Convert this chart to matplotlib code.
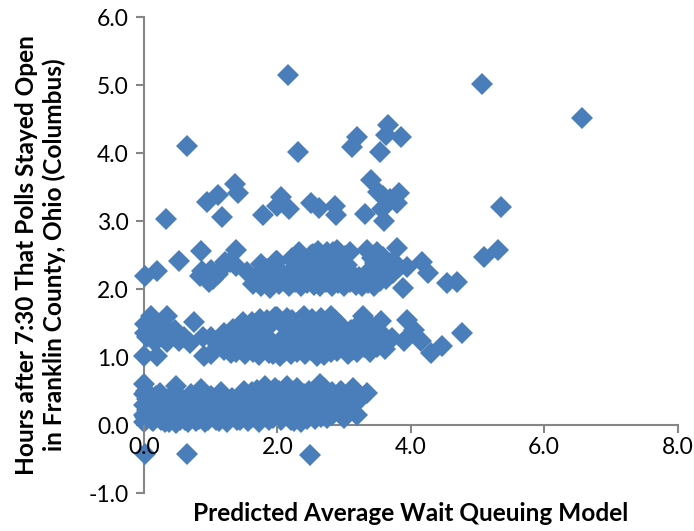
import matplotlib
matplotlib.use('Agg')
import matplotlib.pyplot as plt
from matplotlib.ticker import FormatStrFormatter

plt.rcParams['font.family'] = ['Lato', 'DejaVu Sans']

# scattered points above the 2 hour band
upper_x = [2.16, 0.645, 2.31, 3.19, 3.12, 3.66, 3.63, 3.86, 3.54, 3.40, 1.37, 1.41, 1.11, 0.945, 1.17, 0.33,
           1.79, 2.05, 2.00, 2.18, 2.51, 2.63, 2.86, 2.88, 3.31, 3.51, 3.58, 3.83, 3.79, 3.69, 3.57, 3.60,
           5.07, 6.57, 5.35]
upper_y = [5.15, 4.11, 4.02, 4.24, 4.09, 4.41, 4.26, 4.24, 4.02, 3.60, 3.54, 3.41, 3.38, 3.28, 3.06, 3.03,
           3.09, 3.35, 3.22, 3.17, 3.27, 3.19, 3.22, 3.09, 3.11, 3.42, 3.37, 3.41, 3.27, 3.32, 3.17, 3.00,
           5.02, 4.51, 3.21]

# points around 2 hours
two_x = [0.01, 0.19, 0.53, 0.855, 0.865, 0.84, 0.975, 1.04, 1.11, 1.21, 1.38, 1.38, 1.29, 1.76, 1.63, 1.76,
         1.89, 1.98, 1.72, 1.84, 1.92, 1.80, 1.55, 1.68, 1.99, 2.33, 2.61, 2.89, 2.74, 3.09, 3.35, 3.49,
         3.80, 3.59, 4.17, 4.26, 3.94, 3.89, 4.54, 4.70, 3.74, 5.31, 5.10, 2.02, 2.10, 2.18, 2.27, 2.36,
         2.45, 2.55, 2.64, 2.73, 2.82, 2.91, 3.00, 3.09, 3.18, 3.27, 3.36, 3.45, 3.54, 3.63, 2.06, 2.15,
         2.24, 2.33, 2.42, 2.52, 2.60, 2.70, 2.78, 2.88, 2.96, 3.05, 3.14, 3.22, 3.33, 3.42, 3.50, 3.60,
         3.70, 2.25, 2.38, 2.50, 2.68, 2.80, 2.95, 3.04, 3.42, 3.55, 3.72, 3.82, 2.22, 2.50, 2.72, 2.90,
         2.54, 2.66, 2.84, 3.02, 3.46, 3.67, 1.00, 1.16]
two_y = [2.19, 2.27, 2.41, 2.56, 2.27, 2.19, 2.10, 2.15, 2.22, 2.39, 2.57, 2.34, 2.39, 2.37, 2.07, 2.05,
         2.02, 2.41, 2.22, 2.30, 2.14, 2.12, 2.25, 2.18, 2.41, 2.55, 2.56, 2.58, 2.55, 2.54, 2.58, 2.54,
         2.61, 2.47, 2.40, 2.23, 2.33, 2.01, 2.09, 2.10, 2.24, 2.58, 2.47, 2.08, 2.12, 2.05, 2.10, 2.04,
         2.09, 2.06, 2.04, 2.10, 2.05, 2.09, 2.04, 2.10, 2.06, 2.05, 2.09, 2.05, 2.12, 2.15, 2.25, 2.20,
         2.28, 2.24, 2.18, 2.25, 2.22, 2.27, 2.20, 2.25, 2.18, 2.24, 2.20, 2.18, 2.22, 2.26, 2.20, 2.28,
         2.30, 2.40, 2.36, 2.33, 2.40, 2.38, 2.42, 2.36, 2.45, 2.34, 2.40, 2.32, 2.46, 2.50, 2.48, 2.50,
         2.52, 2.50, 2.54, 2.48, 2.38, 2.36, 2.28, 2.30]

# points around 1 hour
one_x = [0.10, 0.34, 0.75, 0.015, 0.02, 0.00, 0.20, 0.165, 0.34, 0.46, 0.36, 0.69, 0.89, 1.01, 0.90, 1.01,
         1.11, 1.34, 1.49, 1.74, 1.96, 1.51, 1.31, 1.94, 1.99, 2.22, 2.40, 2.62, 2.81, 3.29, 3.56, 3.95,
         4.05, 4.16, 3.90, 3.64, 3.39, 3.06, 2.59, 2.04, 4.30, 4.47, 4.77, 0.04, 0.08, 0.25, 1.20, 1.28,
         1.38, 1.46, 1.55, 1.63, 1.72, 1.80, 1.88, 2.10, 2.20, 2.30, 2.42, 2.50, 2.70, 2.80, 2.90, 3.00,
         3.12, 3.20, 3.30, 3.42, 3.50, 3.30, 3.20, 3.10, 2.95, 2.85, 2.72, 2.50, 2.38, 2.25, 2.12, 1.70,
         1.62, 1.20, 1.40, 1.56, 1.68, 1.80, 1.92, 2.05, 2.18, 2.32, 2.46, 2.58, 2.68, 2.78, 2.90, 3.02,
         3.15, 3.27, 3.40, 3.52, 1.75, 1.88, 2.10, 2.30, 2.50, 2.75, 2.95, 1.62, 1.85, 2.06, 2.15, 2.34,
         2.52, 2.66, 2.86, 3.16, 3.40, 3.46, 3.62, 3.72, 0.22, 0.30, 0.52, 0.60]
one_y = [1.60, 1.60, 1.51, 1.49, 1.35, 1.02, 1.01, 1.22, 1.22, 1.39, 1.31, 1.21, 1.29, 1.30, 1.02, 1.05,
         1.17, 1.41, 1.51, 1.56, 1.59, 1.05, 1.06, 1.05, 1.59, 1.55, 1.60, 1.52, 1.60, 1.60, 1.53, 1.55,
         1.39, 1.24, 1.23, 1.24, 1.07, 1.05, 1.01, 1.02, 1.06, 1.16, 1.35, 1.30, 1.42, 1.45, 1.10, 1.25,
         1.08, 1.22, 1.12, 1.07, 1.03, 1.12, 1.06, 1.07, 1.05, 1.08, 1.04, 1.10, 1.03, 1.07, 1.09, 1.12,
         1.10, 1.08, 1.15, 1.20, 1.15, 1.28, 1.35, 1.40, 1.32, 1.42, 1.30, 1.40, 1.30, 1.42, 1.30, 1.42,
         1.30, 1.36, 1.28, 1.33, 1.22, 1.30, 1.22, 1.25, 1.20, 1.25, 1.20, 1.25, 1.18, 1.22, 1.18, 1.22,
         1.25, 1.30, 1.35, 1.38, 1.50, 1.45, 1.48, 1.50, 1.48, 1.50, 1.45, 1.52, 1.55, 1.50, 1.57, 1.54,
         1.56, 1.58, 1.54, 1.42, 1.45, 1.30, 1.12, 1.28, 1.40, 1.46, 1.24, 1.30]

# points just after 7:30
zero_x = [0.00, 0.00, 0.00, 0.00, 0.00, 0.03, 0.05, 0.08, 0.12, 0.18, 0.24, 0.32, 0.40, 0.48, 0.48, 0.55, 0.62, 0.70,
          0.78, 0.85, 0.92, 1.00, 1.08, 1.16, 1.24, 1.32, 1.40, 1.48, 1.56, 1.64, 1.72, 1.80, 1.88, 1.96, 2.06, 2.15,
          2.25, 2.35, 2.45, 2.56, 2.64, 2.75, 2.86, 2.96, 3.05, 3.13, 3.19, 3.25, 3.34, 0.10, 0.22, 0.36, 0.52, 0.68,
          0.84, 1.02, 1.18, 1.34, 1.50, 1.66, 1.82, 1.98, 2.10, 2.22, 2.34, 2.50, 2.62, 2.76, 2.90, 3.04, 0.30, 0.44,
          0.60, 0.76, 0.94, 1.10, 1.26, 1.42, 1.58, 1.74, 1.90, 2.04, 2.18, 2.30, 2.42, 2.54, 2.68, 2.82, 0.15, 0.28,
          0.42, 0.58, 0.74, 0.90, 1.06, 1.22, 1.38, 1.54, 1.70, 1.86, 2.00, 2.12, 2.28, 2.40, 2.58, 2.72, 0.02, 0.04,
          1.82, 1.92, 2.02, 2.14, 2.30, 2.48, 2.70, 2.94, 0.14, 0.26, 0.38, 0.54, 0.66, 0.82, 0.96, 1.12, 1.28, 1.44,
          1.60, 1.76, 1.94, 2.20, 2.40, 2.66, 1.50, 1.62, 1.70, 2.82, 3.00, 3.10]
zero_y = [0.60, 0.45, 0.30, 0.15, 0.05, 0.50, 0.38, 0.25, 0.08, 0.42, 0.47, 0.05, 0.42, 0.03, 0.58, 0.40, 0.08, 0.46,
          0.06, 0.53, 0.05, 0.42, 0.08, 0.48, 0.05, 0.40, 0.08, 0.45, 0.06, 0.44, 0.04, 0.52, 0.08, 0.55, 0.08, 0.57,
          0.06, 0.05, 0.09, 0.09, 0.60, 0.10, 0.27, 0.50, 0.32, 0.55, 0.14, 0.40, 0.47, 0.30, 0.18, 0.28, 0.20, 0.28,
          0.22, 0.25, 0.20, 0.26, 0.18, 0.25, 0.20, 0.30, 0.25, 0.32, 0.22, 0.30, 0.25, 0.35, 0.38, 0.20, 0.12, 0.35,
          0.15, 0.34, 0.14, 0.32, 0.15, 0.30, 0.15, 0.34, 0.16, 0.40, 0.18, 0.42, 0.35, 0.20, 0.42, 0.48, 0.36, 0.32,
          0.16, 0.36, 0.15, 0.38, 0.16, 0.36, 0.18, 0.36, 0.20, 0.38, 0.22, 0.44, 0.40, 0.45, 0.45, 0.40, 0.12, 0.22,
          0.58, 0.45, 0.50, 0.52, 0.55, 0.50, 0.55, 0.48, 0.06, 0.08, 0.05, 0.07, 0.04, 0.09, 0.07, 0.06, 0.09, 0.07,
          0.10, 0.10, 0.10, 0.08, 0.10, 0.12, 0.50, 0.48, 0.52, 0.15, 0.10, 0.28]

# polls that closed early
early_x = [0.02, 0.64, 2.49]
early_y = [-0.43, -0.43, -0.44]

x_ticks = [0, 2, 4, 6, 8]
y_ticks = [-1, 0, 1, 2, 3, 4, 5, 6]

blue = '#4a7ebb'
gray = '#868686'

fig = plt.figure(figsize=(6.94, 5.31), dpi=100)
ax = fig.add_axes([144 / 694, 1 - 493 / 531, (677.5 - 144) / 694, (493 - 17) / 531])

for xs, ys in [(zero_x, zero_y), (one_x, one_y), (two_x, two_y), (upper_x, upper_y), (early_x, early_y)]:
    ax.plot(xs, ys, 'D', color=blue, markersize=11.2, markeredgewidth=0, clip_on=False, zorder=3)

ax.set_xlim(0, 8)
ax.set_ylim(-1, 6)
ax.set_xticks(x_ticks)
ax.set_yticks(y_ticks)
ax.xaxis.set_major_formatter(FormatStrFormatter('%.1f'))
ax.yaxis.set_major_formatter(FormatStrFormatter('%.1f'))

ax.spines['top'].set_visible(False)
ax.spines['right'].set_visible(False)
ax.spines['bottom'].set_position(('data', 0))
ax.spines['left'].set_color(gray)
ax.spines['bottom'].set_color(gray)
ax.spines['left'].set_linewidth(1.5)
ax.spines['bottom'].set_linewidth(1.5)
ax.tick_params(axis='both', color=gray, width=1.5, length=6, labelsize=16.5, labelcolor='black', pad=3)
ax.tick_params(axis='y', pad=5)
ax.xaxis.set_zorder(4)

ax.set_xlabel('Predicted Average Wait Queuing Model', fontsize=17.6, fontweight='bold')
ax.xaxis.set_label_coords(0.5, -0.018)
ax.set_ylabel('Hours after 7:30 That Polls Stayed Open\nin Franklin County, Ohio (Columbus)',
              fontsize=17.6, fontweight='bold', linespacing=1.2)
ax.yaxis.set_label_coords(-0.147, 0.5)

fig.savefig('out.png', dpi=100)
